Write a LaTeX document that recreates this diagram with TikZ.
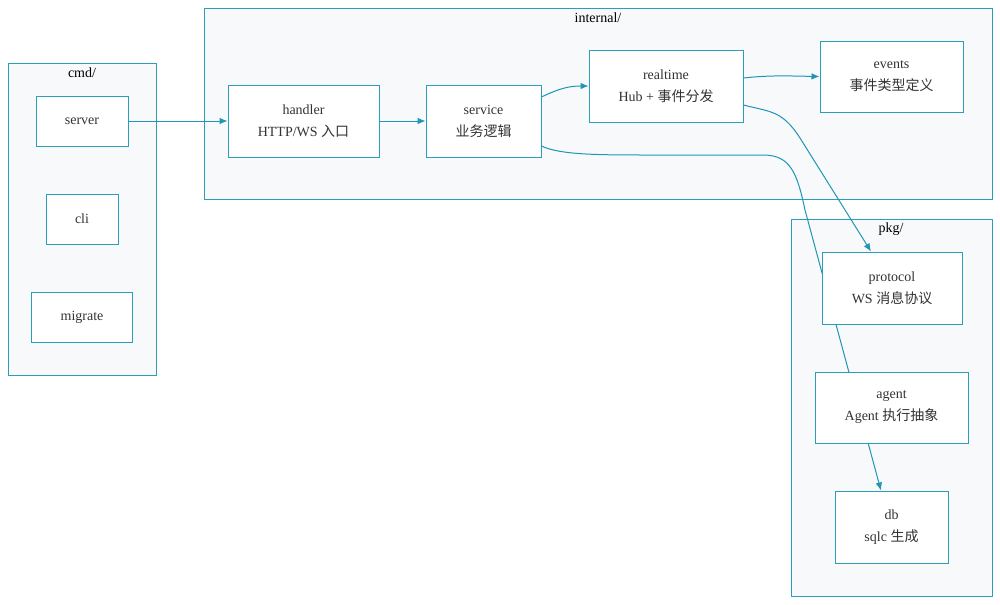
\documentclass[tikz,border=0pt]{standalone}
\usepackage{fontspec}
\setmainfont{Liberation Serif}
\newfontfamily\cjk{Noto Sans CJK SC}
\usetikzlibrary{arrows.meta}
\definecolor{strokec}{HTML}{2B9EBA}
\definecolor{clfill}{HTML}{F7F9FB}
\definecolor{edgec}{HTML}{1E96B4}
\definecolor{txtc}{HTML}{333333}
\begin{document}
\begin{tikzpicture}[x=0.75pt,y=-0.75pt,
  font=\fontsize{10.5pt}{16.5pt}\selectfont,
  cluster/.style={draw=strokec,fill=clfill,line width=0.75pt,inner sep=0pt},
  cltitle/.style={text=black,inner sep=0pt},
  box/.style={draw=strokec,fill=white,line width=0.75pt,align=center,text=txtc,inner sep=0pt},
  edge/.style={draw=edgec,line width=0.75pt,-{Latex[length=6pt,width=5pt]}}]
\useasboundingbox (0,0) rectangle (1000,604);
% clusters
\node[cluster,minimum width=111pt,minimum height=234pt] (cmd) at (82,219) {};
\node[cltitle] (cmdt) at (82,73) {cmd/};
\node[cluster,minimum width=591pt,minimum height=143.25pt] (internal) at (598,103.5) {};
\node[cltitle] (internalt) at (598,18) {internal/};
\node[cluster,minimum width=150.75pt,minimum height=282.75pt] (pkg) at (891.5,407.5) {};
\node[cltitle] (pkgt) at (891,229) {pkg/};
% nodes
\node[box,minimum width=69pt,minimum height=37.5pt] (server) at (82,121) {server};
\node[box,minimum width=54pt,minimum height=37.5pt] (cli) at (82,219) {cli};
\node[box,minimum width=75.75pt,minimum height=37.5pt] (migrate) at (82,317) {migrate};
\node[box,minimum width=113.25pt,minimum height=54pt] (handler) at (303.5,121) {handler\\HTTP/WS {\cjk 入口}};
\node[box,minimum width=86.25pt,minimum height=54pt] (service) at (483.5,121) {service\\{\cjk 业务逻辑}};
\node[box,minimum width=115.5pt,minimum height=54pt] (realtime) at (666,86) {realtime\\Hub + {\cjk 事件分发}};
\node[box,minimum width=107.25pt,minimum height=53.25pt] (events) at (891.5,76.5) {events\\{\cjk 事件类型定义}};
\node[box,minimum width=84.75pt,minimum height=54pt] (db) at (891.5,527) {db\\sqlc {\cjk 生成}};
% edge service -> db drawn before protocol and agent so that they cover it
\draw[edge] ([yshift=-18.75pt]service.east) .. controls (560,155) and (600,155) .. (650,155) -- (765,155) .. controls (790,156) and (797,172) .. (805,210) -- ([xshift=-7.9pt]db.north);
\node[box,minimum width=105pt,minimum height=54pt] (protocol) at (892,288) {protocol\\WS {\cjk 消息协议}};
\node[box,minimum width=114.75pt,minimum height=53.25pt] (agent) at (891.5,407.5) {agent\\Agent {\cjk 执行抽象}};
% edges
\draw[edge] (server.east) -- (handler.west);
\draw[edge] (handler.east) -- (service.west);
\draw[edge] ([yshift=18pt]service.east) .. controls (560,88) and (570,86) .. (realtime.west);
\draw[edge] ([yshift=6pt]realtime.east) .. controls (770,75) and (790,76) .. (events.west);
\draw[edge] ([yshift=-14.25pt]realtime.east) .. controls (770,112) and (782,110) .. (800,138) -- ([xshift=-15.75pt]protocol.north);
\end{tikzpicture}
\end{document}
